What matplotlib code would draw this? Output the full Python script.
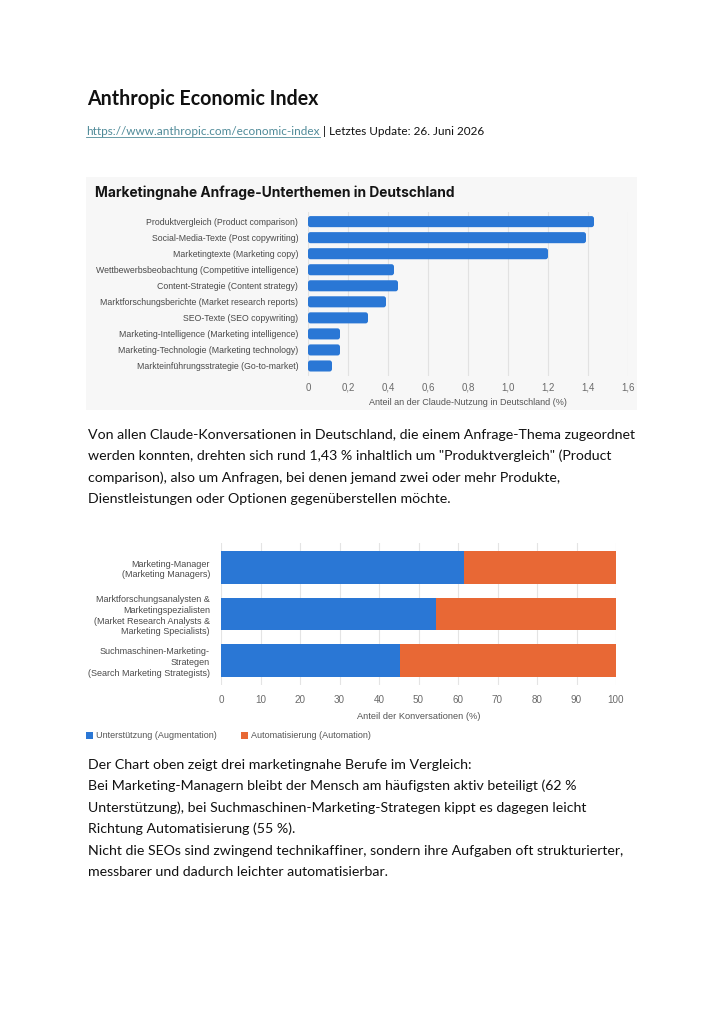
import matplotlib
matplotlib.use("Agg")
import matplotlib.pyplot as plt
from matplotlib.patches import Rectangle, FancyBboxPatch
from matplotlib.ticker import FuncFormatter
from matplotlib.lines import Line2D

# ---------------- data ----------------
topic_labels = [
    "Produktvergleich (Product comparison)",
    "Social-Media-Texte (Post copywriting)",
    "Marketingtexte (Marketing copy)",
    "Wettbewerbsbeobachtung (Competitive intelligence)",
    "Content-Strategie (Content strategy)",
    "Marktforschungsberichte (Market research reports)",
    "SEO-Texte (SEO copywriting)",
    "Marketing-Intelligence (Marketing intelligence)",
    "Marketing-Technologie (Marketing technology)",
    "Markteinführungsstrategie (Go-to-market)",
]
topic_share = [1.43, 1.39, 1.20, 0.43, 0.45, 0.39, 0.30, 0.16, 0.16, 0.12]
topic_ticks = [0, 0.2, 0.4, 0.6, 0.8, 1.0, 1.2, 1.4, 1.6]

occupations = [
    "Marketing-Manager\n(Marketing Managers)",
    "Marktforschungsanalysten &\nMarketingspezialisten\n(Market Research Analysts &\nMarketing Specialists)",
    "Suchmaschinen-Marketing-\nStrategen\n(Search Marketing Strategists)",
]
augmentation = [61.6, 54.5, 45.3]
automation = [38.4, 45.5, 54.7]
share_ticks = [0, 10, 20, 30, 40, 50, 60, 70, 80, 90, 100]

heading = "Anthropic Economic Index"
url = "https://www.anthropic.com/economic-index"
update = " | Letztes Update: 26. Juni 2026"
chart1_title = "Marketingnahe Anfrage-Unterthemen in Deutschland"
chart1_xlabel = "Anteil an der Claude-Nutzung in Deutschland (%)"
chart2_xlabel = "Anteil der Konversationen (%)"
legend_labels = ["Unterstützung (Augmentation)", "Automatisierung (Automation)"]
para1 = [
    "Von allen Claude-Konversationen in Deutschland, die einem Anfrage-Thema zugeordnet",
    "werden konnten, drehten sich rund 1,43 % inhaltlich um \"Produktvergleich\" (Product",
    "comparison), also um Anfragen, bei denen jemand zwei oder mehr Produkte,",
    "Dienstleistungen oder Optionen gegenüberstellen möchte.",
]
para2 = [
    "Der Chart oben zeigt drei marketingnahe Berufe im Vergleich:",
    "Bei Marketing-Managern bleibt der Mensch am häufigsten aktiv beteiligt (62 %",
    "Unterstützung), bei Suchmaschinen-Marketing-Strategen kippt es dagegen leicht",
    "Richtung Automatisierung (55 %).",
    "Nicht die SEOs sind zwingend technikaffiner, sondern ihre Aufgaben oft strukturierter,",
    "messbarer und dadurch leichter automatisierbar.",
]

# ---------------- layout helpers ----------------
W, H = 724, 1024
fig = plt.figure(figsize=(W / 100, H / 100), dpi=100)
fig.patch.set_facecolor("white")
renderer = fig.canvas.get_renderer()

BODY = ["Lato", "DejaVu Sans"]
CHART = ["Liberation Sans", "DejaVu Sans"]
TITLEF = ["Inter", "DejaVu Sans"]


def fx(px):
    return px / W


def fy(py):
    return 1 - py / H


def width_px(s, **kw):
    t = fig.text(0, 0, s, **kw)
    w = t.get_window_extent(renderer).width
    t.remove()
    return w


def fit(s, target, **kw):
    return 10 * target / width_px(s, fontsize=10, **kw)


def rect_axes(x0, y0, x1, y1):
    return fig.add_axes([fx(x0), fy(y1), (x1 - x0) / W, (y1 - y0) / H])


# ---------------- header ----------------
hs = fit(heading, 231, family=BODY, weight="bold")
fig.text(fx(87), fy(105), heading, fontsize=hs, family=BODY, weight="bold",
         color="#111111", va="baseline")

us = fit(url, 232, family=BODY)
t_url = fig.text(fx(86), fy(135), url, fontsize=us, family=BODY,
                 color="#4f8a98", va="baseline")
bb = t_url.get_window_extent(renderer)
fig.text(bb.x1 / W, fy(135), update, fontsize=us, family=BODY,
         color="#111111", va="baseline")
fig.add_artist(Line2D([bb.x0 / W, bb.x1 / W], [fy(137), fy(137)],
                      color="#4f8a98", lw=0.6, transform=fig.transFigure))

# ---------------- chart 1 ----------------
fig.add_artist(Rectangle((fx(86), fy(410)), (637 - 86) / W, (410 - 177) / H,
                         transform=fig.transFigure, facecolor="#f7f7f7",
                         edgecolor="none", zorder=0))
ts = fit(chart1_title, 360, family=TITLEF, weight="bold")
fig.text(fx(95), fy(193), chart1_title, fontsize=ts, family=TITLEF,
         weight="bold", color="#151515", va="center")

ax1_box = (308, 212, 628, 375.6)
ax1 = rect_axes(*ax1_box)
ax1.set_facecolor("none")
ypos = list(range(len(topic_labels)))
ylim1 = (len(topic_labels) - 0.4, -0.6)
xlim1 = (0, 1.6)
bars = ax1.barh(ypos, topic_share, height=0.69, color="#2a77d5", zorder=3)
# rounded bar ends: same geometry as the bars, drawn as rounded boxes
x_per_px = (xlim1[1] - xlim1[0]) / (ax1_box[2] - ax1_box[0])
y_per_px = abs(ylim1[0] - ylim1[1]) / (ax1_box[3] - ax1_box[1])
for r in bars:
    r.set_visible(False)
    ax1.add_patch(FancyBboxPatch(
        (r.get_x(), r.get_y()), r.get_width(), r.get_height(),
        boxstyle=f"round,pad=0,rounding_size={2.5 * x_per_px}",
        mutation_aspect=y_per_px / x_per_px,
        facecolor="#2a77d5", edgecolor="none", zorder=3))
ax1.set_ylim(*ylim1)
ax1.set_xlim(*xlim1)
ax1.set_xticks(topic_ticks)
ax1.xaxis.set_major_formatter(FuncFormatter(
    lambda v, p: "0" if abs(v) < 1e-9 else f"{v:.1f}".replace(".", ",")))
ax1.set_yticks(ypos)
ls1 = fit(topic_labels[3], 203, family=CHART)
ax1.set_yticklabels(topic_labels, family=CHART, fontsize=ls1, color="#4a4a4a")
for lab in ax1.get_xticklabels():
    lab.set_family(CHART)
    lab.set_fontsize(ls1 * 1.12)
    lab.set_color("#6a6a6a")
ax1.tick_params(axis="both", length=0)
ax1.tick_params(axis="y", pad=7)
ax1.tick_params(axis="x", pad=5)
ax1.grid(axis="x", color="#e2e2e2", lw=0.8, zorder=0)
for s in ax1.spines.values():
    s.set_visible(False)
ax1.set_xlabel(chart1_xlabel, family=CHART, fontsize=ls1 * 1.03,
               color="#555555", labelpad=4)

# ---------------- body paragraph 1 ----------------
bs = fit(para1[0], 547, family=BODY)
for i, line in enumerate(para1):
    fig.text(fx(88), fy(439 + i * 21.3), line, fontsize=bs, family=BODY,
             color="#111111", va="baseline")

# ---------------- chart 2 ----------------
ax2 = rect_axes(221, 543, 616, 685)
y2 = list(range(len(occupations)))
ax2.barh(y2, augmentation, height=0.71, color="#2a77d5", zorder=3,
         label=legend_labels[0])
ax2.barh(y2, automation, left=augmentation, height=0.71, color="#e86835",
         zorder=3, label=legend_labels[1])
ax2.set_ylim(len(occupations) - 0.47, -0.53)
ax2.set_xlim(0, 100)
ax2.set_xticks(share_ticks)
ax2.set_yticks(y2)
ls2 = fit("(Search Marketing Strategists)", 122, family=CHART)
ax2.set_yticklabels(occupations, family=CHART, fontsize=ls2, color="#4a4a4a",
                    linespacing=1.25)
for lab in ax2.get_xticklabels():
    lab.set_family(CHART)
    lab.set_fontsize(ls2 * 1.1)
    lab.set_color("#6a6a6a")
ax2.tick_params(axis="both", length=0)
ax2.tick_params(axis="y", pad=8)
ax2.tick_params(axis="x", pad=7)
ax2.grid(axis="x", color="#e4e4e4", lw=0.8, zorder=0)
for s in ax2.spines.values():
    s.set_visible(False)
ax2.set_xlabel(chart2_xlabel, family=CHART, fontsize=ls2 * 1.03,
               color="#555555", labelpad=5)

# legend
handles, labels = ax2.get_legend_handles_labels()
leg = fig.legend(handles, labels, loc="center left",
                 bbox_to_anchor=(fx(82), fy(736)), ncol=2, frameon=False,
                 prop={"family": CHART, "size": ls2}, handlelength=0.8,
                 handleheight=0.8, handletextpad=0.4, columnspacing=2.6,
                 borderaxespad=0)
for t in leg.get_texts():
    t.set_color("#555555")

# ---------------- body paragraph 2 ----------------
for i, line in enumerate(para2):
    fig.text(fx(88), fy(769 + i * 21.4), line, fontsize=bs, family=BODY,
             color="#111111", va="baseline")

fig.savefig("out.png", dpi=100, facecolor="white")
